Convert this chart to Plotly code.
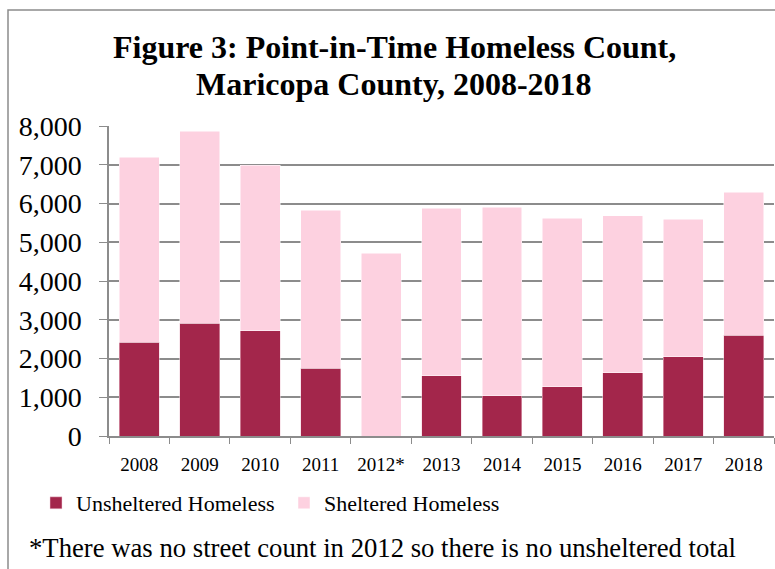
import plotly.graph_objects as go

years = ["2008", "2009", "2010", "2011", "2012*", "2013", "2014", "2015", "2016", "2017", "2018"]
totals = [7190, 7870, 6990, 5825, 4720, 5880, 5900, 5620, 5690, 5590, 6290]
unsheltered = [2420, 2910, 2720, 1745, None, 1560, 1035, 1270, 1630, 2045, 2600]
sheltered = [t - (u or 0) for t, u in zip(totals, unsheltered)]

FONT = "Liberation Serif, Times New Roman, serif"
GRID = "#8c8c8c"
W, H = 775, 569
L, T, B = 109, 126, 133
PW, PH = W - L - 1, H - T - B


def px(x):
    return (x - L) / PW


def py(y):
    return (H - B - y) / PH


fig = go.Figure()
fig.add_trace(go.Bar(x=years, y=unsheltered, name="Unsheltered Homeless",
                     marker=dict(color="#A3264B", line=dict(color="#f4d0dc", width=0.5))))
fig.add_trace(go.Bar(x=years, y=sheltered, name="Sheltered Homeless",
                     marker=dict(color="#FDD1E0", line=dict(color="#ffffff", width=0.5))))

fig.update_layout(
    width=W, height=H,
    barmode="stack", bargap=0.34,
    paper_bgcolor="white", plot_bgcolor="white",
    margin=dict(l=L, r=1, t=T, b=B),
    font=dict(family=FONT, color="black"),
    showlegend=True,
    legend=dict(orientation="h", x=36 / W, xref="container", xanchor="left",
                y=(H - 503) / H, yref="container", yanchor="middle",
                font=dict(size=22, family=FONT), traceorder="normal",
                entrywidth=203, itemwidth=30, bgcolor="rgba(0,0,0,0)"),
)
fig.update_yaxes(range=[0, 8000], dtick=1000, tickformat=",",
                 showgrid=True, gridcolor=GRID, gridwidth=1.5,
                 showline=True, linecolor=GRID, linewidth=1.5,
                 ticks="outside", ticklen=8, tickcolor=GRID,
                 ticklabelstandoff=12,
                 tickfont=dict(size=28, family=FONT), zeroline=False)
fig.update_xaxes(type="category", showline=True, linecolor=GRID, linewidth=1.5,
                 ticks="outside", tickson="boundaries", ticklen=6, tickcolor=GRID,
                 ticklabelstandoff=10,
                 tickfont=dict(size=19, family=FONT), showgrid=False)

fig.add_annotation(text="<b>Figure 3: Point-in-Time Homeless Count,</b>",
                   xref="paper", yref="paper", x=px(394), y=py(47),
                   xanchor="center", yanchor="middle", showarrow=False,
                   font=dict(size=32, family=FONT, color="black"))
fig.add_annotation(text="<b>Maricopa County, 2008-2018</b>",
                   xref="paper", yref="paper", x=px(394), y=py(84),
                   xanchor="center", yanchor="middle", showarrow=False,
                   font=dict(size=32, family=FONT, color="black"))
fig.add_annotation(text="*There was no street count in 2012 so there is no unsheltered total",
                   xref="paper", yref="paper", x=px(27), y=py(548),
                   xanchor="left", yanchor="middle", showarrow=False,
                   font=dict(size=26.7, family=FONT, color="black"))
fig.add_shape(type="rect", xref="paper", yref="paper",
              x0=px(8), x1=1.05, y0=-0.5, y1=py(10),
              line=dict(color="#8c8c8c", width=1.5), fillcolor="rgba(0,0,0,0)", layer="below")

fig.write_html("out.html", config={"displayModeBar": False},
               post_script="document.body.style.margin='0px';document.body.style.overflow='hidden';")
